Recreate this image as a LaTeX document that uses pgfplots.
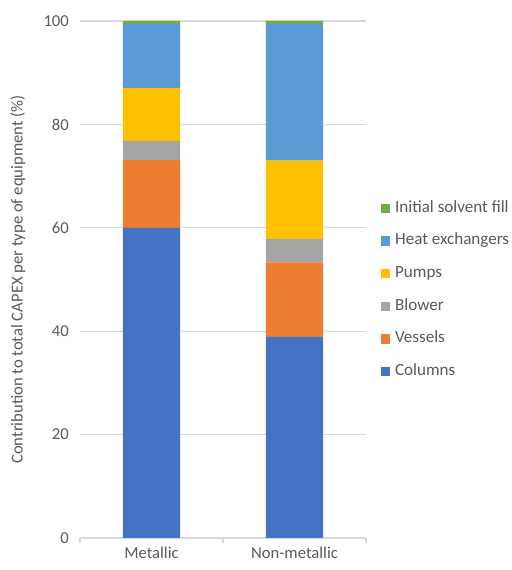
\documentclass[border=0pt]{standalone}
\usepackage{pgfplots}
\pgfplotsset{compat=1.18}
\usepackage{fontspec}
\setmainfont{Carlito}
\definecolor{txt}{HTML}{595959}
\definecolor{grd}{HTML}{D9D9D9}
\definecolor{cCol}{HTML}{4472C4}
\definecolor{cVes}{HTML}{ED7D31}
\definecolor{cBlo}{HTML}{A5A5A5}
\definecolor{cPum}{HTML}{FFC000}
\definecolor{cHex}{HTML}{5B9BD5}
\definecolor{cSol}{HTML}{70AD47}
\begin{document}
\begin{tikzpicture}
\fontsize{12.5}{15}\selectfont
\begin{axis}[
  scale only axis,
  width=214.5pt, height=387.75pt,
  ybar stacked, bar width=0.4,
  xmin=-0.5, xmax=1.5, ymin=0, ymax=100,
  xtick={0,1}, xticklabels={Metallic,Non-metallic},
  ytick={0,20,40,60,80,100},
  ymajorgrids, grid style={grd, line width=0.8pt},
  axis line style={draw=none},
  axis x line*=bottom,
  x axis line style={draw=grd, line width=0.8pt},
  major tick length=0pt,
  extra x ticks={-0.5,0.5,1.5}, extra x tick labels={},
  extra x tick style={major tick length=4pt, tick align=outside, tick style={draw=grd, line width=0.8pt}, grid=none},
  tick label style={text=txt, font=\fontsize{12.5}{15}\selectfont},
  /pgf/number format/assume math mode=true,
  y tick label style={xshift=-4pt},
  x tick label style={yshift=-2pt},
  ylabel={Contribution to total CAPEX per type of equipment (\%)},
  ylabel style={text=txt, font=\fontsize{12.5}{15}\selectfont, at={(axis description cs:-0.217,0.5)}, anchor=center},
  reverse legend,
  legend cell align=left,
  legend style={draw=none, fill=none, at={(axis description cs:1.052,0.48)}, anchor=west, inner sep=0pt,
    font=\fontsize{12.8}{15}\selectfont, text=txt, row sep=10.5pt,
    nodes={inner sep=1pt, text height=9pt, text depth=3pt},
    /tikz/every odd column/.append style={column sep=2.5pt}},
  legend image code/.code={\fill[#1] (0pt,-3.5pt) rectangle (7pt,3.5pt);},
]
\addplot[fill=cCol, draw=none] coordinates {(0,60.0) (1,38.9)};
\addplot[fill=cVes, draw=none] coordinates {(0,13.1) (1,14.4)};
\addplot[fill=cBlo, draw=none] coordinates {(0,3.7) (1,4.5)};
\addplot[fill=cPum, draw=none] coordinates {(0,10.2) (1,15.2)};
\addplot[fill=cHex, draw=none] coordinates {(0,12.4) (1,26.4)};
\addplot[fill=cSol, draw=none] coordinates {(0,0.6) (1,0.6)};
\legend{Columns,Vessels,Blower,Pumps,Heat exchangers,Initial solvent fill}
\end{axis}
\path (current axis.south west) ++(-60pt,-24pt) rectangle ++(383.25pt,427.5pt);
\end{tikzpicture}
\end{document}
